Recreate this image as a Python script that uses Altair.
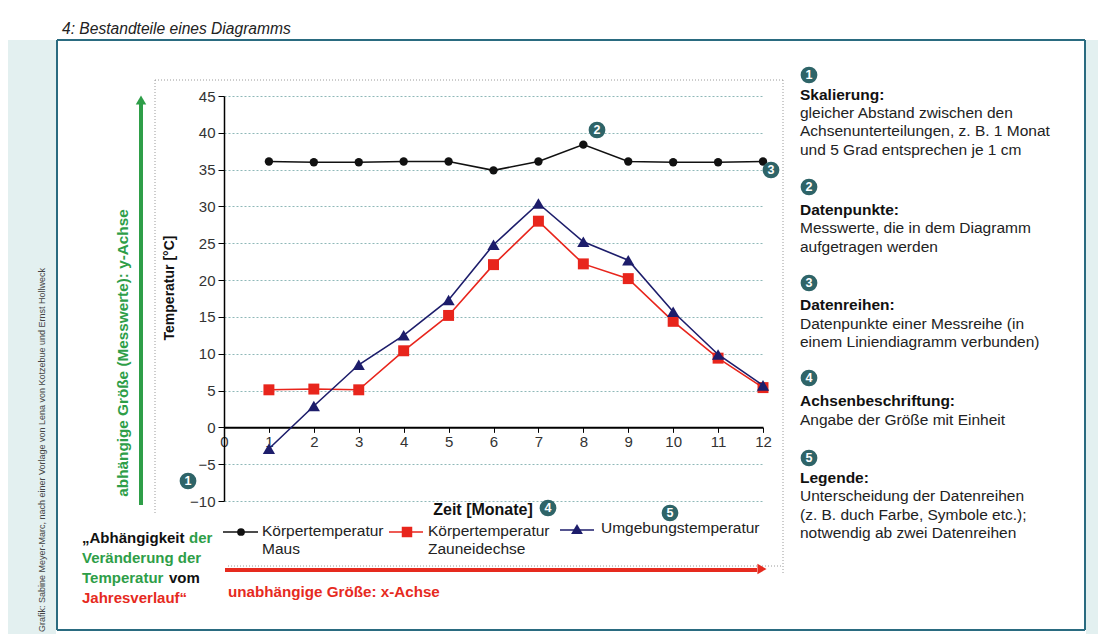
import altair as alt
import pandas as pd

# ---------------- data ----------------
months = list(range(1, 13))
series_names = ["Körpertemperatur Maus", "Körpertemperatur Zauneidechse", "Umgebungstemperatur"]
maus = [36.1, 36.0, 36.0, 36.1, 36.1, 34.9, 36.1, 38.4, 36.1, 36.0, 36.0, 36.1]
zauneidechse = [5.1, 5.2, 5.1, 10.4, 15.2, 22.1, 28.0, 22.2, 20.2, 14.4, 9.4, 5.4]
umgebung = [-2.9, 2.9, 8.5, 12.5, 17.3, 24.8, 30.4, 25.2, 22.7, 15.7, 9.9, 5.7]
x_ticks = list(range(0, 13))
y_ticks = list(range(-10, 50, 5))

# ---------------- layout / styles ----------------
FONT = "Liberation Sans"
X0, Y0 = 224, 96          # page position of the plot origin
W, H = 539, 405
PAD = {"left": X0 - 8, "top": Y0 - 8, "right": 1090 - (X0 - 8) - W, "bottom": 626 - (Y0 - 8) - H}
series_colors = ["#111111", "#e8251c", "#1d1d6b"]
series_shapes = ["circle", "square", "triangle-up"]
series_sizes = [70, 120, 150]
GREEN = "#2e9e48"
RED = "#e62a1e"
TEAL = "#2a6b80"
BADGE = "#2e6468"
BODY = 15.5

values_by_series = [maus, zauneidechse, umgebung]

xscale = alt.Scale(domain=[0, 12], nice=False)
yscale = alt.Scale(domain=[-10, 45], nice=False)
y0_offset = -(H * 10 / 55)

x_axis = alt.Axis(values=x_ticks, title=None, grid=False, offset=y0_offset,
                  labelFont=FONT, labelFontSize=15, labelColor="#333333",
                  domainColor="#000000", domainWidth=2, tickColor="#000000",
                  tickSize=5, labelPadding=2, labelFlush=False)
y_axis = alt.Axis(values=y_ticks, title=None, grid=True, gridColor="#8fb8b8",
                  gridDash=[2, 2], gridWidth=1, labelFont=FONT, labelFontSize=15,
                  labelColor="#333333", domainColor="#000000", domainWidth=1.5,
                  tickColor="#000000", tickSize=6, labelPadding=3)

series_layers = []
for i, (name, vals) in enumerate(zip(series_names, values_by_series)):
    df = pd.DataFrame({"month": months, "value": vals, "series": name})
    base = alt.Chart(df).encode(
        x=alt.X("month:Q", scale=xscale, axis=x_axis),
        y=alt.Y("value:Q", scale=yscale, axis=y_axis),
    )
    series_layers.append(base.mark_line(color=series_colors[i], strokeWidth=1.6))
    series_layers.append(base.mark_point(color=series_colors[i], shape=series_shapes[i],
                                         size=series_sizes[i], filled=True, opacity=1))
data_layer = alt.layer(*series_layers)


def P(x, y):
    return x - X0, y - Y0


def rule_layer(items, color, width, dash=None):
    rows = []
    for a, b, c, d in items:
        x1, y1 = P(a, b)
        x2, y2 = P(c, d)
        rows.append(dict(x1=x1, y1=y1, x2=x2, y2=y2))
    kw = dict(color=color, strokeWidth=width)
    if dash:
        kw["strokeDash"] = dash
    return alt.Chart(pd.DataFrame(rows)).mark_rule(**kw).encode(
        x=alt.X("x1:Q", scale=None, axis=None), y=alt.Y("y1:Q", scale=None, axis=None),
        x2="x2:Q", y2="y2:Q")


def rect_layer(items, **kw):
    rows = []
    for a, b, c, d in items:
        x1, y1 = P(a, b)
        x2, y2 = P(c, d)
        rows.append(dict(x1=x1, y1=y1, x2=x2, y2=y2))
    return alt.Chart(pd.DataFrame(rows)).mark_rect(**kw).encode(
        x=alt.X("x1:Q", scale=None, axis=None), y=alt.Y("y1:Q", scale=None, axis=None),
        x2="x2:Q", y2="y2:Q")


def point_layer(items, shape, color, size):
    rows = [dict(zip(("px", "py"), P(a, b))) for a, b in items]
    return alt.Chart(pd.DataFrame(rows)).mark_point(shape=shape, color=color, size=size,
                                                    filled=True, opacity=1).encode(
        x=alt.X("px:Q", scale=None, axis=None), y=alt.Y("py:Q", scale=None, axis=None))


def T(x, y, text, color="#222222", size=BODY, weight="normal", style="normal", align="left", angle=0):
    px, py = P(x, y)
    return dict(px=px, py=py, text=text, color=color, size=size, weight=weight,
                style=style, align=align, angle=angle)


def text_layers(items):
    df = pd.DataFrame(items)
    layers = []
    for (w, s, a), g in df.groupby(["weight", "style", "align"]):
        layers.append(alt.Chart(g.reset_index(drop=True)).mark_text(
            font=FONT, fontWeight=w, fontStyle=s, align=a, baseline="middle").encode(
            x=alt.X("px:Q", scale=None, axis=None),
            y=alt.Y("py:Q", scale=None, axis=None),
            text="text:N",
            color=alt.Color("color:N", scale=None),
            size=alt.Size("size:Q", scale=None),
            angle=alt.Angle("angle:Q", scale=None)))
    return layers


# backgrounds and frames (frame as rules so nothing opaque covers the axes)
bg = rect_layer([(8, 40, 56, 634), (1086, 40, 1098, 634)], color="#e3f0f0")
frame = rule_layer([(57, 40, 1085, 40), (57, 40, 57, 630), (1085, 40, 1085, 630),
                    (57, 630, 1085, 630)], TEAL, 2)
dotted = rule_layer([(155, 80, 783, 80), (155, 80, 155, 515), (783, 80, 783, 575),
                     (228, 566, 783, 566)], "#9a9a9a", 1, [1, 2])

# arrows
green_arrow = rule_layer([(141, 505, 141, 104)], GREEN, 4)
green_head = point_layer([(141, 100)], "triangle-up", GREEN, 110)
red_arrow = rule_layer([(225, 570, 757, 570)], RED, 4)
red_head = point_layer([(762, 569)], "triangle-right", RED, 110)

# legend glyphs
leg_lines = [
    rule_layer([(223, 532, 258, 532)], series_colors[0], 1.6),
    rule_layer([(389, 532, 423, 532)], series_colors[1], 1.6),
    rule_layer([(560, 530, 594, 530)], series_colors[2], 1.6),
]
leg_pts = [
    point_layer([(241, 532)], "circle", series_colors[0], 60),
    point_layer([(407, 532)], "square", series_colors[1], 110),
    point_layer([(577, 529)], "triangle-up", series_colors[2], 140),
]

# numbered badges
badge_pos = [(188, 481, "1"), (597, 130, "2"), (771, 170, "3"), (548, 508, "4"), (670, 513, "5"),
             (809, 75, "1"), (809, 187, "2"), (809, 283, "3"), (809, 378, "4"), (809, 458, "5")]
badge_df = pd.DataFrame([dict(px=P(a, b)[0], py=P(a, b)[1], label=l) for a, b, l in badge_pos])
badge_c = alt.Chart(badge_df).mark_circle(size=280, color=BADGE, opacity=1).encode(
    x=alt.X("px:Q", scale=None, axis=None), y=alt.Y("py:Q", scale=None, axis=None))
badge_t = alt.Chart(badge_df).mark_text(font=FONT, fontSize=12.5, fontWeight="bold", color="white",
                                        align="center", baseline="middle").encode(
    x=alt.X("px:Q", scale=None, axis=None), y=alt.Y("py:Q", scale=None, axis=None), text="label:N")

texts = [
    T(62, 29, "4: Bestandteile eines Diagramms", "#222222", 15.6, style="italic"),
    T(42, 450, "Grafik: Sabine Meyer-Marc, nach einer Vorlage von Lena von Kotzebue und Ernst Hollweck",
      "#444444", 9, align="center", angle=270),
    T(123, 353, "abhängige Größe (Messwerte): y-Achse", GREEN, 15.3, weight="bold", align="center", angle=270),
    T(170, 288, "Temperatur [°C]", "#111111", 14, weight="bold", align="center", angle=270),
    T(483, 510, "Zeit [Monate]", "#111111", 16, weight="bold", align="center"),
    # legend texts
    T(262, 531, "Körpertemperatur"), T(262, 549, "Maus"),
    T(428, 531, "Körpertemperatur"), T(428, 549, "Zauneidechse"),
    T(601, 528, "Umgebungstemperatur"),
    # bottom-left block
    T(82, 538, "„Abhängigkeit", "#111111", 15, weight="bold"),
    T(189, 538, "der", GREEN, 15, weight="bold"),
    T(82, 558, "Veränderung der", GREEN, 15, weight="bold"),
    T(82, 578, "Temperatur", GREEN, 15, weight="bold"),
    T(169, 578, "vom", "#111111", 15, weight="bold"),
    T(82, 598, "Jahresverlauf“", RED, 15, weight="bold"),
    T(228, 592, "unabhängige Größe: x-Achse", RED, 15.2, weight="bold"),
    # right column
    T(800, 95, "Skalierung:", "#111111", BODY, weight="bold"),
    T(800, 113, "gleicher Abstand zwischen den"),
    T(800, 131, "Achsenunterteilungen, z. B. 1 Monat"),
    T(800, 150, "und 5 Grad entsprechen je 1 cm"),
    T(800, 210, "Datenpunkte:", "#111111", BODY, weight="bold"),
    T(800, 228, "Messwerte, die in dem Diagramm"),
    T(800, 247, "aufgetragen werden"),
    T(800, 305, "Datenreihen:", "#111111", BODY, weight="bold"),
    T(800, 324, "Datenpunkte einer Messreihe (in"),
    T(800, 342, "einem Liniendiagramm verbunden)"),
    T(800, 401, "Achsenbeschriftung:", "#111111", BODY, weight="bold"),
    T(800, 420, "Angabe der Größe mit Einheit"),
    T(800, 478, "Legende:", "#111111", BODY, weight="bold"),
    T(800, 496, "Unterscheidung der Datenreihen"),
    T(800, 515, "(z. B. duch Farbe, Symbole etc.);"),
    T(800, 533, "notwendig ab zwei Datenreihen"),
]

chart = alt.layer(
    bg, frame, dotted, green_arrow, green_head, red_arrow, red_head,
    data_layer, *leg_lines, *leg_pts, badge_c, badge_t, *text_layers(texts)
).resolve_scale(x="independent", y="independent").properties(
    width=W, height=H, padding=PAD, autosize=alt.AutoSizeParams(type="none"),
    background="white"
).configure_view(strokeWidth=0)

chart.save("out.html", embed_options={"renderer": "svg", "actions": False})
